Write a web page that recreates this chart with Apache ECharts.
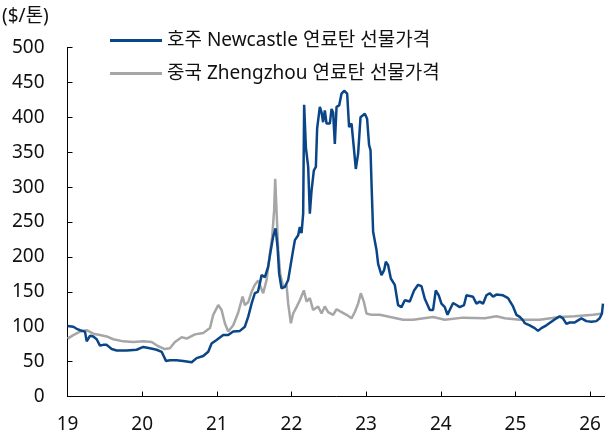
<!DOCTYPE html>
<html>
<head>
<meta charset="utf-8">
<script src="https://cdn.jsdelivr.net/npm/echarts@6/dist/echarts.min.js"></script>
<style>
html,body{margin:0;padding:0;background:#fff;}
#chart{width:605px;height:437px;}
</style>
</head>
<body>
<div id="chart"></div>
<script>
// Tick labels
const yearTicks = [2019, 2020, 2021, 2022, 2023, 2024, 2025, 2026];
const seriesNames = ['호주 Newcastle 연료탄 선물가격', '중국 Zhengzhou 연료탄 선물가격'];

// Newcastle (decimal years, $/t)
const ncYears = [2019.000,2019.078,2019.123,2019.167,2019.234,2019.257,2019.301,2019.345,2019.391,2019.435,2019.479,2019.525,2019.592,2019.659,2019.793,2019.926,
2020.015,2020.104,2020.194,2020.261,2020.319,2020.372,2020.462,2020.550,2020.663,2020.730,2020.818,2020.885,2020.930,2020.997,
2021.086,2021.153,2021.220,2021.309,2021.376,2021.420,2021.466,2021.510,2021.550,2021.577,2021.600,2021.644,2021.688,2021.724,2021.755,2021.787,2021.814,2021.835,2021.867,2021.912,2021.956,2021.979,
2022.015,2022.046,2022.090,2022.112,2022.135,2022.157,2022.170,2022.193,2022.224,2022.246,2022.269,2022.300,2022.327,2022.344,2022.380,2022.403,2022.424,2022.447,2022.470,2022.514,2022.537,2022.558,2022.581,2022.604,2022.639,2022.671,2022.706,2022.746,2022.772,2022.805,2022.835,2022.862,2022.893,2022.925,2022.983,
2023.013,2023.040,2023.059,2023.074,2023.094,2023.139,2023.161,2023.206,2023.241,2023.264,2023.295,2023.331,2023.384,2023.428,2023.474,2023.518,2023.585,2023.643,2023.696,2023.742,2023.786,2023.853,2023.897,2023.933,2023.973,
2024.009,2024.054,2024.090,2024.120,2024.165,2024.210,2024.254,2024.312,2024.344,2024.388,2024.432,2024.478,2024.522,2024.566,2024.612,2024.656,2024.700,2024.746,2024.767,2024.834,2024.901,2024.968,
2025.013,2025.058,2025.102,2025.125,2025.191,2025.258,2025.303,2025.348,2025.415,2025.482,2025.549,2025.593,2025.637,2025.683,2025.727,2025.794,2025.838,2025.884,2025.951,
2026.017,2026.084,2026.129,2026.159,2026.173];
const ncValues = [101,100,97,95,93,79,87,86,82,73,74,74,68,66,66,67,
71,69,67,64,51,52,52,51,49,55,58,64,76,81,
88,88,93,94,100,114,133,148,150,162,174,171,186,210,229,241,214,176,155,157,167,169,
205,224,231,243,234,262,418,357,329,262,295,324,329,384,415,407,393,410,391,391,412,407,362,415,417,434,438,434,386,391,357,326,348,400,405,
398,360,353,300,236,210,190,174,181,193,188,169,160,131,128,138,136,152,160,158,140,124,124,152,145,
133,128,117,124,134,131,128,131,145,144,143,133,136,133,145,148,143,146,148,145,141,129,
117,114,109,105,102,98,94,98,102,107,112,115,112,104,106,106,109,112,108,
107,108,112,119,133];

// Zhengzhou (decimal years, $/t)
const zzYears = [2019.000,2019.078,2019.167,2019.257,2019.345,2019.435,2019.525,2019.613,2019.747,2019.881,
2020.015,2020.127,2020.216,2020.305,2020.372,2020.439,2020.529,2020.596,2020.707,2020.818,2020.908,2020.952,
2021.019,2021.064,2021.108,2021.153,2021.220,2021.286,2021.345,2021.376,2021.420,2021.466,2021.510,2021.554,2021.621,2021.667,2021.711,2021.742,2021.768,2021.782,2021.800,2021.822,2021.849,2021.889,2021.934,2021.956,2021.992,
2022.023,2022.068,2022.112,2022.166,2022.202,2022.246,2022.290,2022.357,2022.403,2022.447,2022.491,2022.558,2022.604,2022.671,2022.738,2022.805,2022.849,2022.893,2022.929,2022.969,
2023.005,2023.072,2023.183,2023.495,2023.629,2023.897,
2024.054,2024.299,2024.589,2024.746,2024.857,
2025.058,2025.325,2025.593,2025.794,
2026.039,2026.173];
const zzValues = [83,88,93,95,90,88,86,82,79,78,
79,78,72,68,69,78,85,83,89,91,98,117,
131,124,105,93,102,120,143,131,135,150,160,166,148,167,205,229,267,312,267,210,176,157,160,133,105,
119,128,138,152,136,141,124,129,119,129,121,117,125,121,117,112,121,133,148,136,
119,117,117,110,110,114,
110,113,112,115,112,
110,110,114,115,
117,119];

const toPairs = (xs, ys) => xs.map((x, i) => [x, ys[i]]);
const FONT = '"Noto Sans", "Noto Sans CJK KR", sans-serif';
const FS = 19;

const chart = echarts.init(document.getElementById('chart'), null, {renderer: 'canvas'});
chart.setOption({
  animation: false,
  backgroundColor: '#fff',
  grid: {left: 67.5, right: 0, top: 47.5, bottom: 40.5, containLabel: false},
  graphic: [{
    type: 'text', left: 2, top: 7,
    style: {text: '($/톤)', font: FS + 'px ' + FONT, fill: '#111'}
  }],
  legend: {
    orient: 'vertical', left: 110, top: 31, itemGap: 14, padding: 0,
    itemWidth: 52, itemHeight: 3, icon: 'rect',
    textStyle: {fontFamily: FONT, fontSize: FS, color: '#111', padding: [0, 0, 0, 0]},
    data: seriesNames
  },
  xAxis: {
    type: 'value', min: 2019, max: 2026.2, interval: 1,
    axisLine: {show: true, lineStyle: {color: '#000', width: 1}},
    axisTick: {show: true, inside: true, length: 5, lineStyle: {color: '#000'}, customValues: yearTicks},
    axisLabel: {
      customValues: yearTicks,
      margin: 19, fontFamily: FONT, fontSize: FS, color: '#111',
      formatter: v => String(Math.round(v)).slice(2)
    },
    splitLine: {show: false}
  },
  yAxis: {
    type: 'value', min: 0, max: 500, interval: 50,
    axisLine: {show: true, lineStyle: {color: '#000', width: 1}},
    axisTick: {show: true, inside: true, length: 5, lineStyle: {color: '#000'}},
    axisLabel: {margin: 23, fontFamily: FONT, fontSize: FS, color: '#111'},
    splitLine: {show: false}
  },
  series: [
    {name: seriesNames[1], type: 'line', showSymbol: false, symbol: 'none', z: 2,
     lineStyle: {color: '#a6a6a6', width: 2.5}, itemStyle: {color: '#a6a6a6'},
     data: toPairs(zzYears, zzValues)},
    {name: seriesNames[0], type: 'line', showSymbol: false, symbol: 'none', z: 3,
     lineStyle: {color: '#0a4687', width: 2.5}, itemStyle: {color: '#0a4687'},
     data: toPairs(ncYears, ncValues)}
  ]
});
</script>
</body>
</html>
